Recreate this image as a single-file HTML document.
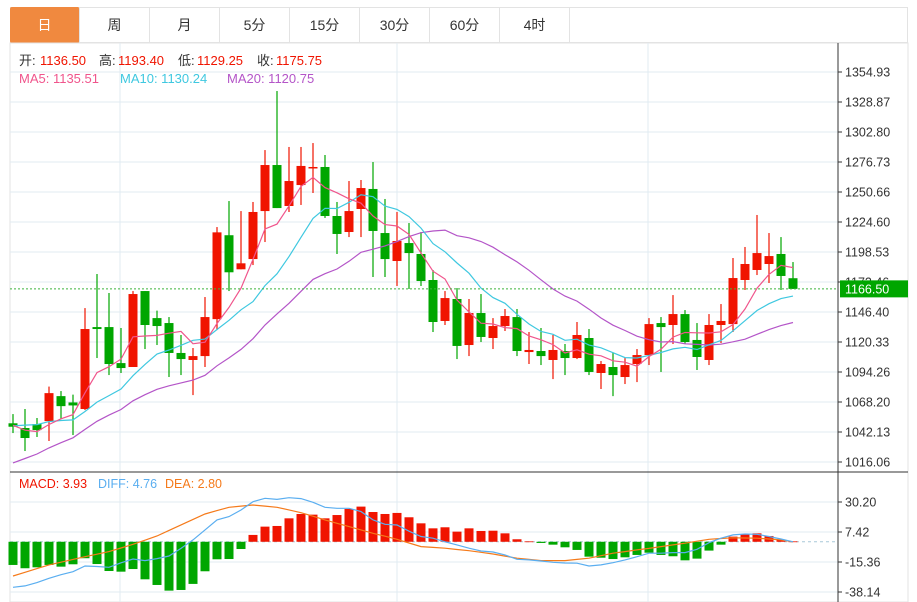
<!DOCTYPE html>
<html><head><meta charset="utf-8"><style>
body{margin:0;background:#fff;font-family:"Liberation Sans","Noto Sans CJK SC",sans-serif;}
#wrap{position:relative;width:917px;height:602px;overflow:hidden;}
.tab{position:absolute;top:7px;height:36px;width:70px;line-height:36px;text-align:center;font-size:14px;color:#333;border-right:1px solid #e3e3e3;box-sizing:border-box;}
</style></head><body>
<div id="wrap">
<div style="position:absolute;left:10px;top:7px;width:898px;height:36px;border:1px solid #e3e3e3;border-left:none;box-sizing:border-box;"></div>
<div class="tab" style="left:10px;background:#f0893f;color:#fff;border-radius:2px;">日</div>
<div class="tab" style="left:80px">周</div>
<div class="tab" style="left:150px">月</div>
<div class="tab" style="left:220px">5分</div>
<div class="tab" style="left:290px">15分</div>
<div class="tab" style="left:360px">30分</div>
<div class="tab" style="left:430px">60分</div>
<div class="tab" style="left:500px">4时</div>
<svg id="chart" width="917" height="602" style="position:absolute;left:0;top:0"></svg>
</div>
<script>
const priorCloses=[960,965,970,975,980,985,990,995,1000,1010,1030,1040,1050,1055,1060,1058,1050,1045,1040];
const opens=[1049.7,1045.6,1049.0,1051.6,1073.3,1067.8,1062.1,1133.3,1133.3,1102.0,1098.6,1164.6,1141.1,1136.8,1110.8,1104.7,1108.1,1140.2,1213.1,1183.5,1192.4,1234.1,1274.1,1238.5,1256.7,1271.5,1272.4,1229.8,1215.9,1235.9,1253.3,1215.0,1190.7,1206.3,1196.8,1174.2,1138.6,1157.7,1117.7,1145.5,1123.8,1134.2,1142.0,1111.6,1112.5,1104.7,1112.5,1106.4,1123.8,1093.4,1098.6,1089.9,1101.2,1109.0,1136.8,1135.1,1144.6,1122.1,1104.7,1135.1,1135.9,1174.2,1182.9,1188.1,1196.8,1175.75];
const closes=[1046.7,1036.9,1043.8,1075.9,1064.6,1065.2,1131.6,1131.6,1101.2,1097.7,1162.0,1135.1,1134.2,1110.8,1105.5,1108.1,1142.0,1215.6,1180.9,1188.7,1233.3,1274.1,1236.7,1260.2,1273.3,1272.4,1229.8,1214.2,1234.1,1254.1,1216.8,1192.4,1208.1,1197.6,1173.3,1137.7,1158.5,1116.9,1145.5,1124.7,1134.2,1142.9,1112.5,1113.4,1108.1,1113.4,1106.4,1126.4,1094.3,1101.2,1091.6,1100.3,1109.0,1135.9,1133.3,1144.6,1120.3,1107.3,1135.1,1138.6,1175.9,1188.1,1197.6,1195.0,1177.7,1166.5];
const highs=[1057.7,1062.1,1054.3,1081.6,1077.7,1074.6,1149.8,1179.4,1162.9,1132.5,1164.6,1164.6,1147.6,1142.0,1126.4,1115.1,1159.4,1220.2,1242.8,1234.1,1242.0,1287.1,1338.4,1289.8,1289.8,1293.2,1282.8,1242.0,1260.2,1261.1,1276.7,1244.6,1233.3,1223.7,1215.9,1182.9,1164.6,1167.2,1157.7,1162.0,1141.1,1149.0,1149.0,1129.0,1132.5,1126.4,1118.6,1137.7,1131.6,1103.8,1110.8,1106.4,1114.2,1141.1,1142.0,1161.1,1148.1,1136.8,1144.6,1153.3,1193.3,1202.9,1230.7,1215.0,1211.5,1189.8];
const lows=[1041.2,1025.6,1037.8,1034.3,1053.4,1039.5,1061.2,1106.4,1091.6,1093.4,1098.6,1114.2,1117.7,1089.9,1091.6,1074.2,1098.6,1130.7,1164.6,1183.5,1187.2,1207.2,1236.7,1233.3,1239.4,1249.8,1228.1,1196.8,1211.5,1211.5,1176.8,1176.8,1169.0,1166.4,1169.0,1129.0,1135.1,1105.5,1108.1,1120.3,1114.2,1129.9,1108.1,1101.2,1100.3,1088.1,1091.6,1105.5,1091.6,1079.5,1073.3,1083.8,1085.5,1100.3,1094.3,1118.6,1118.6,1096.0,1100.3,1119.4,1129.0,1165.5,1178.5,1171.6,1165.5,1166.4];
const macdHist=[-17.6,-20.1,-19.4,-17.6,-18.9,-17.1,-12.5,-16.9,-22.2,-22.7,-20.7,-28.5,-32.8,-37.1,-36.6,-32.0,-22.4,-13.3,-13.1,-5.5,5.2,11.5,12.0,17.8,21.1,20.6,17.8,20.3,24.9,26.7,22.6,21.1,21.9,18.6,14.0,10.2,11.0,7.7,10.2,8.2,8.4,6.4,1.9,0.3,-0.9,-2.2,-4.2,-6.2,-11.3,-12.1,-13.1,-11.8,-10.0,-8.3,-10.0,-11.0,-14.1,-12.8,-6.7,-2.2,3.9,5.9,6.4,4.4,1.4,0.3];
const diffLine=[-34.6,-33.5,-31,-27.7,-25,-22.7,-18.4,-18.8,-19.4,-16,-13.1,-14.3,-12.8,-10.8,-5,1.4,9,16.6,19.1,24.1,30.4,33.0,32.2,33.5,32.8,30.0,26.2,25.4,25.4,22.9,16.6,13.3,12.7,8,4,2.7,0,-2.4,-4.9,-7.0,-7.8,-10.0,-13.3,-13.8,-14.6,-15.6,-16.1,-16.3,-18.4,-17.6,-15.9,-13.8,-11.3,-8.7,-8.7,-8.2,-8.2,-5.7,-0.7,2.7,5.2,5.9,5.7,4.0,2.1,0];
const deaLine=[-26.0,-23.2,-20.4,-17.6,-15.5,-13.4,-11.3,-9.4,-7.5,-4.7,-1.9,1.2,4.4,8.6,12.8,17,21.1,23.7,26.2,27.1,27.9,27.1,26.2,24.2,22.1,19.4,16.6,14,11.5,9,6.4,4.2,1.9,-0.9,-3.7,-4.3,-4.9,-5.9,-6.8,-8,-9.3,-10.9,-12.5,-13.4,-14.3,-14.3,-14.3,-13.4,-12.5,-10.6,-8.7,-7.5,-6.2,-5,-3.7,-2.4,-1.1,0.4,1.9,2.5,3.0,2.9,2.7,2.1,1.4,0];
const priceTicks=["1354.93","1328.87","1302.80","1276.73","1250.66","1224.60","1198.53","1172.46","1146.40","1120.33","1094.26","1068.20","1042.13","1016.06"];
const macdTicks=["30.20","7.42","-15.36","-38.14"];

const NS="http://www.w3.org/2000/svg";
const svg=document.getElementById('chart');
function mk(tag,attrs,parent){const e=document.createElementNS(NS,tag);for(const k in attrs)e.setAttribute(k,attrs[k]);(parent||svg).appendChild(e);return e;}
const pMax=1354.93,pMin=1016.06,yTop=72,yBot=462;
function py(p){return yTop+(pMax-p)/(pMax-pMin)*(yBot-yTop);}
const mMax=30.20,mMin=-38.14;
function my(v){return 502+(mMax-v)/(mMax-mMin)*90;}
function cx(i){return 13+12*i;}
const RED="#f01400",GREEN="#00a600";

// frame
let fr=mk('rect',{x:10,y:43,width:898,height:559,fill:'none',stroke:'#e3e3e3'});


// vertical gridlines
[120,397,648].forEach(x=>{const l=mk('line',{x1:x,y1:43,x2:x,y2:602,stroke:'#e1ebf2'});

});
// price grid + ticks
priceTicks.forEach((t,k)=>{const y=py(parseFloat(t));
const g=mk('line',{x1:10,y1:y,x2:838,y2:y,stroke:'#e1ebf2'});


mk('line',{x1:838,y1:y,x2:842,y2:y,stroke:'#333'});
const tx=mk('text',{x:845,y:y+4.5,'font-size':12.5,fill:'#333'});tx.textContent=t;

});
// macd grid
macdTicks.forEach(t=>{const y=my(parseFloat(t));
const g=mk('line',{x1:10,y1:y,x2:838,y2:y,stroke:'#e1ebf2'});


mk('line',{x1:838,y1:y,x2:842,y2:y,stroke:'#333'});
const tx=mk('text',{x:845,y:y+4.5,'font-size':12.5,fill:'#333'});tx.textContent=t;

});
// axes
mk('line',{x1:838,y1:43,x2:838,y2:602,stroke:'#333'});
const sep=mk('line',{x1:10,y1:472,x2:908,y2:472,stroke:'#333'});



// MAs
const all=priorCloses.concat(closes);
function ma(n){const out=[];for(let i=0;i<closes.length;i++){const j=i+priorCloses.length;let s=0;for(let k=j-n+1;k<=j;k++)s+=all[k];out.push(s/n);}return out;}
function line(vals,f,color,name){const d=vals.map((v,i)=>(i?'L':'M')+cx(i)+','+f(v).toFixed(1)).join('');
const p=mk('path',{d:d,fill:'none',stroke:color,'stroke-width':1.2});

}

// candles
closes.forEach((c,i)=>{const o=opens[i];const up=c>=o;const col=up?RED:GREEN;
const g=mk('g',{});


mk('line',{x1:cx(i),x2:cx(i),y1:py(highs[i]),y2:py(lows[i]),stroke:col,'stroke-width':1.2},g);
const t=py(Math.max(o,c)),b=py(Math.min(o,c));
mk('rect',{x:cx(i)-4.5,y:t,width:9,height:Math.max(1.5,b-t),fill:col},g);});

line(ma(20),py,'#b455c8','ma20-line');
line(ma(10),py,'#3fc8e0','ma10-line');
line(ma(5),py,'#f0558c','ma5-line');

// current price dashed line + label
const last=closes[closes.length-1];
const cl=mk('line',{x1:10,y1:py(last),x2:838,y2:py(last),stroke:'#3cb43c','stroke-dasharray':'2,2'});


const lb=mk('rect',{x:840,y:py(last)-8.5,width:68,height:17,fill:'#00a600'});


const lt=mk('text',{x:845,y:py(last)+4.5,'font-size':12.5,fill:'#fff'});lt.textContent=last.toFixed(2);

// MACD hist
const z=my(0);
mk('line',{x1:10,y1:z,x2:838,y2:z,stroke:'#a8c8d8','stroke-dasharray':'3,3'});
macdHist.forEach((v,i)=>{const y=my(v);
const r=mk('rect',{x:cx(i)-4.5,y:Math.min(y,z),width:9,height:Math.max(0.8,Math.abs(y-z)),fill:v>=0?RED:GREEN});

});
line(deaLine,my,'#f57a1a','dea-line');
line(diffLine,my,'#5aaef0','diff-line');

// legends
function txt(x,y,s,col,name,size){const t=mk('text',{x:x,y:y,'font-size':size||13,fill:col});t.textContent=s;

return t;}
const L1=[["开:",'#333',19],["1136.50",RED,40],["高:",'#333',99],["1193.40",RED,118],["低:",'#333',178],["1129.25",RED,197],["收:",'#333',257],["1175.75",RED,276]];
L1.forEach(a=>txt(a[2],65,a[0],a[1],'ohlc-legend'));
txt(19,83,"MA5: 1135.51",'#f0558c','ma5-legend');
txt(120,83,"MA10: 1130.24",'#3fc8e0','ma10-legend');
txt(227,83,"MA20: 1120.75",'#b455c8','ma20-legend');
txt(19,488,"MACD: 3.93",'#f01400','macd-legend',12.5);
txt(98,488,"DIFF: 4.76",'#5aaef0','diff-legend',12.5);
txt(165,488,"DEA: 2.80",'#f57a1a','dea-legend',12.5);
</script>
</body></html>
